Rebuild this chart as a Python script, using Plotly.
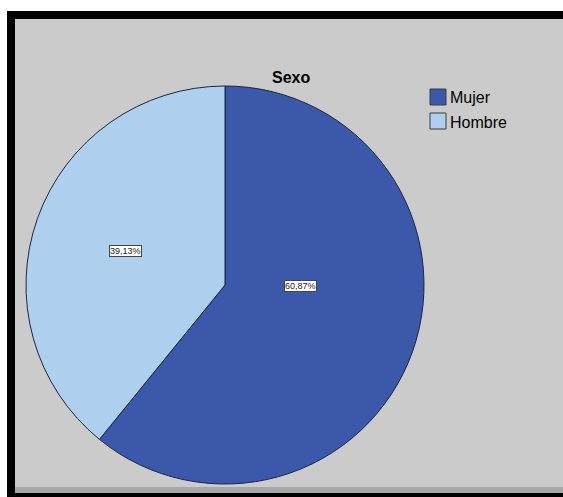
import plotly.graph_objects as go

categories = ["Mujer", "Hombre"]
values = [60.87, 39.13]
colors = ["#3c58ab", "#aed0ee"]
title_text = "Sexo"

W, H = 563, 497

def px(x):
    return x / W

def py(y):
    return 1 - y / H

FONT = "Liberation Sans, Arial, sans-serif"

fig = go.Figure()
fig.add_trace(go.Pie(
    labels=categories,
    values=values,
    sort=False,
    direction="clockwise",
    rotation=0,
    marker=dict(colors=colors, line=dict(color="#1c2444", width=1)),
    textinfo="none",
    hoverinfo="label+percent",
    domain=dict(x=[px(26), px(424)], y=[py(484), py(86)]),
    showlegend=False,
))

annotations = []
# slice value labels (pixel positions of label centres)
label_pos = [(300, 286), (125.5, 251)]
for v, (lx, ly) in zip(values, label_pos):
    annotations.append(dict(
        x=px(lx), y=py(ly), xref="paper", yref="paper",
        xanchor="center", yanchor="middle",
        text=f"{v:.2f}%".replace(".", ","), showarrow=False,
        font=dict(family=FONT, size=9, color="#222222"),
        bgcolor="white", bordercolor="#444444", borderwidth=1, borderpad=0,
    ))

# title
annotations.append(dict(
    x=px(291), y=py(77), xref="paper", yref="paper",
    xanchor="center", yanchor="middle", text=f"<b>{title_text}</b>",
    showarrow=False, font=dict(family=FONT, size=16, color="black"),
))

shapes = [
    dict(type="rect", xref="paper", yref="paper", x0=px(7), x1=px(600), y0=py(520), y1=py(11),
         fillcolor="black", line=dict(width=0), layer="below"),
    dict(type="rect", xref="paper", yref="paper", x0=px(15), x1=px(600), y0=py(493), y1=py(19),
         fillcolor="#cbcbcb", line=dict(width=0), layer="below"),
    dict(type="rect", xref="paper", yref="paper", x0=px(15), x1=px(600), y0=py(493), y1=py(487),
         fillcolor="#a8a8a8", line=dict(width=0), layer="below"),
]

# legend (drawn from categories / colours)
leg_x, leg_y, leg_step, sq = 430, 89, 24, 16
for i, (name, col) in enumerate(zip(categories, colors)):
    y0 = leg_y + i * leg_step
    shapes.append(dict(type="rect", xref="paper", yref="paper",
                       x0=px(leg_x), x1=px(leg_x + sq), y0=py(y0 + sq), y1=py(y0),
                       fillcolor=col, line=dict(color="#3a3a3a", width=1)))
    annotations.append(dict(
        x=px(leg_x + sq + 2), y=py(y0 + sq / 2 + 1), xref="paper", yref="paper",
        xanchor="left", yanchor="middle", text=name, showarrow=False,
        font=dict(family=FONT, size=16, color="black"),
    ))

fig.update_layout(
    width=W, height=H,
    margin=dict(l=0, r=0, t=0, b=0),
    paper_bgcolor="white",
    plot_bgcolor="rgba(0,0,0,0)",
    shapes=shapes,
    annotations=annotations,
    showlegend=False,
)

fig.write_html(
    "out.html",
    config={"displayModeBar": False},
    post_script="document.body.style.margin='0';document.body.style.overflow='hidden';",
)
